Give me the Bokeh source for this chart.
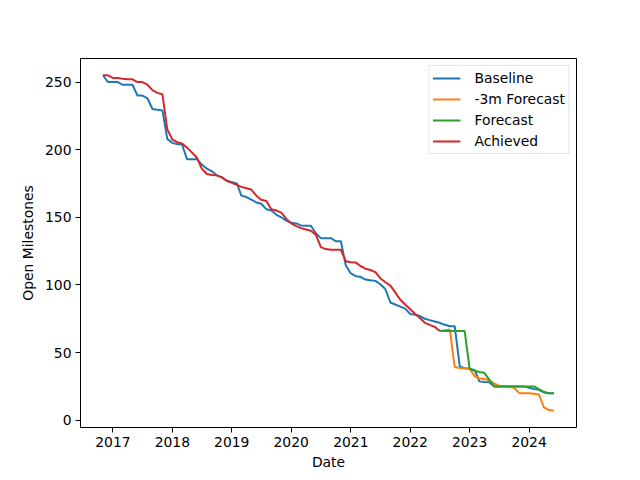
import pandas as pd
from datetime import datetime
from bokeh.plotting import figure
from bokeh.models import Range1d, FixedTicker, DatetimeTickFormatter, Legend, LegendItem, ColumnDataSource
from bokeh.embed import file_html
from bokeh.resources import INLINE

# Monthly dates (first of month) Nov 2016 .. Jun 2024
months = pd.date_range("2016-11-01", "2024-06-01", freq="MS")

baseline = [255, 250, 250, 250, 248, 248, 248, 240, 240, 238, 230, 229.5,
            229, 208, 205, 204, 204, 193, 193, 193, 189, 186, 184, 181,
            179.5, 177, 176, 175, 166, 165, 163, 161, 160, 156, 155, 152,
            150, 147.5, 146, 145.5, 144, 143.7, 143.7, 138, 134.6, 134.6, 134.6, 132.3,
            132.3, 114.5, 108.5, 106.5, 106, 104, 103.5, 103, 100.5, 97, 87, 85.5,
            84, 82.5, 78.5, 78, 77, 75, 74, 73, 72, 70.5, 69.5, 69.5,
            39.8, 38.5, 38, 37, 28.7, 28.3, 28, 25, 25, 25, 25, 25,
            25, 25, 24, 23, 22.5, 20.5, 20, 20]

achieved = [255, 255, 253, 253, 252.5, 252, 252, 250, 250, 248, 244, 242,
            241, 215, 207.5, 205.5, 204.5, 201.5, 198, 194, 186, 182, 181.3, 181,
            179.5, 177, 175.5, 174, 172.5, 171.5, 170.5, 166, 163, 162, 156, 155,
            153.5, 149, 145.5, 143.5, 142, 141, 140, 137, 128, 126.5, 126, 126,
            126, 117.5, 116.7, 116.5, 114, 112, 111, 109.5, 105, 102, 99.5, 94.5,
            89, 85.5, 82, 78.5, 75.5, 72, 70.5, 69, 66]

# Forecasts start at the last achieved month (index 68)
forecast = [66, 66, 66, 66, 66, 66, 38, 36.5, 35.6, 35, 30, 25,
            25, 25, 25, 25, 25, 25, 25, 25, 23, 21, 20, 20]
forecast_3m = [66, 66.5, 67, 39.3, 38.5, 38.3, 38, 32.4, 31, 30.5, 29.5, 27,
               25.5, 25, 24.5, 24, 20, 20, 20, 19.5, 19, 9.5, 7.5, 7]

year_ticks = [2017, 2018, 2019, 2020, 2021, 2022, 2023, 2024]
y_ticks = [0, 50, 100, 150, 200, 250]

FONT = "DejaVu Sans"
FS = "13.9px"

p = figure(width=632, height=472, output_backend="svg", toolbar_location=None,
           x_axis_type="datetime",
           x_range=Range1d(datetime(2016, 6, 16), datetime(2024, 10, 18)),
           y_range=Range1d(-5.4, 267.4),
           min_border_left=80, min_border_right=56, min_border_top=58, min_border_bottom=45)

src_b = ColumnDataSource(dict(x=months, y=baseline))
src_a = ColumnDataSource(dict(x=months[:len(achieved)], y=achieved))
start = len(achieved) - 1
src_f = ColumnDataSource(dict(x=months[start:start + len(forecast)], y=forecast))
src_f3 = ColumnDataSource(dict(x=months[start:start + len(forecast_3m)], y=forecast_3m))

r_b = p.line("x", "y", source=src_b, line_color="#1f77b4", line_width=2)
r_f3 = p.line("x", "y", source=src_f3, line_color="#ff7f0e", line_width=2)
r_f = p.line("x", "y", source=src_f, line_color="#2ca02c", line_width=2)
r_a = p.line("x", "y", source=src_a, line_color="#d62728", line_width=2)

p.xaxis.ticker = FixedTicker(ticks=[datetime(y, 1, 1).timestamp() * 1000 for y in year_ticks])
p.xaxis.formatter = DatetimeTickFormatter(years="%Y", months="%Y", days="%Y", hours="%Y",
                                          minutes="%Y", seconds="%Y", milliseconds="%Y",
                                          microseconds="%Y", hourmin="%Y", minsec="%Y")
p.yaxis.ticker = FixedTicker(ticks=y_ticks)

p.xgrid.visible = False
p.ygrid.visible = False
p.outline_line_color = "black"
p.outline_line_width = 1
p.background_fill_color = "white"
p.border_fill_color = "white"

for ax in (p.xaxis[0], p.yaxis[0]):
    ax.major_tick_in = 0
    ax.major_tick_out = 5
    ax.minor_tick_in = 0
    ax.minor_tick_out = 0
    ax.axis_line_color = None
    ax.major_tick_line_color = "black"
    ax.major_label_text_font = FONT
    ax.major_label_text_font_size = FS
    ax.major_label_text_color = "black"
    ax.axis_label_text_font = FONT
    ax.axis_label_text_font_size = FS
    ax.axis_label_text_font_style = "normal"
    ax.axis_label_text_color = "black"
    ax.major_label_standoff = 4

p.xaxis.axis_label = "Date"
p.yaxis.axis_label = "Open Milestones"
p.xaxis.axis_label_standoff = 4
p.yaxis.axis_label_standoff = 6

legend = Legend(items=[
    LegendItem(label="Baseline", renderers=[r_b]),
    LegendItem(label="-3m Forecast", renderers=[r_f3]),
    LegendItem(label="Forecast", renderers=[r_f]),
    LegendItem(label="Achieved", renderers=[r_a]),
], location="top_right")
legend.label_text_font = FONT
legend.label_text_font_size = FS
legend.label_text_color = "black"
legend.border_line_color = "#cccccc"
legend.border_line_width = 1
legend.background_fill_alpha = 0.8
legend.margin = 7
legend.padding = 3
legend.spacing = 3
legend.label_height = 18
legend.glyph_height = 18
legend.glyph_width = 28
legend.label_standoff = 14
p.add_layout(legend, "center")

open("out.html", "w").write(file_html(p, INLINE))
